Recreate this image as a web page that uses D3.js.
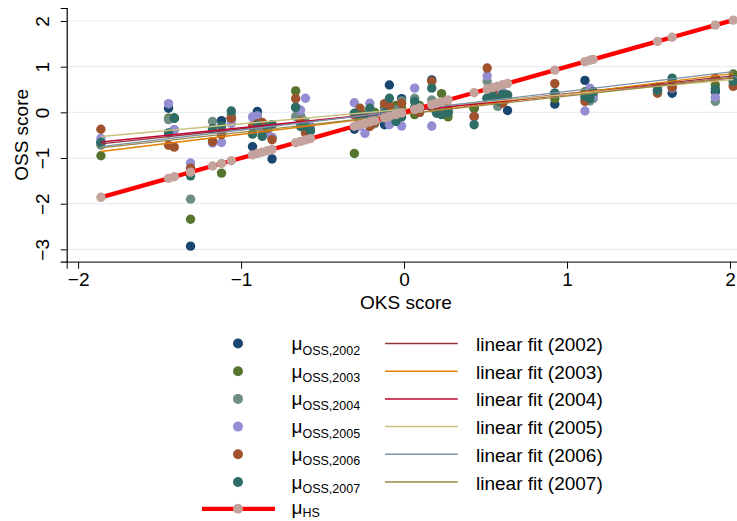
<!DOCTYPE html>
<html>
<head>
<meta charset="utf-8">
<script src="https://cdn.jsdelivr.net/npm/d3@7/dist/d3.min.js"></script>
<style>
html,body{margin:0;padding:0;background:#fff;}
svg{display:block;font-family:"Liberation Sans",Arial,Helvetica,sans-serif;}
</style>
</head>
<body>
<svg id="chart" width="737" height="521"></svg>
<script>
// ---- data ----
const years = ["2002","2003","2004","2005","2006","2007"];
const oks = [-1.86,-1.445,-1.41,-1.31,-1.175,-1.12,-1.06,-0.93,-0.90,-0.87,-0.84,-0.81,
  -0.665,-0.635,-0.605,-0.575,-0.305,-0.27,-0.24,-0.21,-0.18,-0.12,-0.09,-0.05,-0.015,
  0.065,0.095,0.17,0.20,0.23,0.27,0.43,0.51,0.545,0.575,0.605,0.635,0.925,1.11,1.14,1.16,
  1.555,1.645,1.91,2.02];
const hs = [-1.86,-1.445,-1.41,-1.31,-1.175,-1.12,-1.06,-0.93,-0.90,-0.87,-0.84,-0.81,
  -0.665,-0.635,-0.605,-0.575,-0.305,-0.27,-0.24,-0.21,-0.18,-0.12,-0.09,-0.05,-0.015,
  0.065,0.095,0.17,0.20,0.23,0.27,0.43,0.51,0.545,0.575,0.605,0.635,0.925,1.11,1.14,1.16,
  1.555,1.645,1.91,2.02];
const oss2002 = [-0.66,0.09,-0.13,-2.93,-0.36,-0.18,-0.13,-0.75,0.02,-0.3,-0.35,-1.02,
  0.11,-0.09,-0.3,-0.4,-0.37,-0.2,-0.1,-0.2,-0.05,-0.27,0.60,-0.05,0.3,
  0.1,0.0,0.71,0.0,0.1,0.0,0.09,0.31,0.4,0.3,0.35,0.04,0.18,0.70,0.5,0.45,
  0.48,0.42,0.45,0.75];
const oss2003 = [-0.95,-0.13,-0.12,-2.34,-0.64,-1.33,-0.13,-0.47,-0.25,-0.52,-0.4,-0.55,
  0.47,-0.09,-0.3,-0.4,-0.9,-0.1,-0.05,0.05,0.0,0.1,0.0,0.15,0.1,
  -0.05,0.15,0.1,0.2,0.41,-0.1,0.09,0.31,0.45,0.3,0.4,0.38,0.3,0.45,0.35,0.4,
  0.55,0.7,0.6,0.84];
const oss2004 = [-0.72,-0.16,-0.38,-1.90,-0.2,-0.45,-0.05,-0.47,-0.08,-0.3,-0.3,-0.27,
  -0.09,-0.09,-0.2,-0.4,-0.05,-0.15,-0.2,0.0,-0.25,0.05,-0.1,0.05,0.25,
  0.31,0.05,0.27,0.15,0.2,0.0,-0.09,0.68,0.35,0.13,0.3,0.3,0.42,0.3,0.25,0.3,
  0.48,0.6,0.24,0.62];
const oss2005 = [-0.57,0.19,-0.38,-1.11,-0.67,-0.66,-0.24,-0.1,-0.08,-0.45,-0.45,-0.55,
  0.11,0.05,0.31,-0.3,0.21,-0.3,-0.46,0.2,-0.1,0.0,-0.27,-0.1,-0.3,
  0.53,0.1,-0.3,0.1,0.15,0.05,-0.09,0.8,0.3,0.35,0.45,0.35,0.42,0.03,0.53,0.35,
  0.48,0.53,0.33,0.7];
const oss2006 = [-0.37,-0.72,-0.76,-1.22,-0.64,-0.49,-0.13,-0.3,-0.25,-0.22,-0.35,-0.6,
  0.30,-0.2,-0.45,-0.4,-0.05,0.09,-0.15,-0.31,-0.22,0.19,0.14,-0.15,0.2,
  0.05,0.0,0.68,0.05,0.2,0.1,-0.09,0.97,0.46,0.3,0.2,0.3,0.63,0.24,0.4,0.45,
  0.42,0.55,0.75,0.57];
const oss2007 = [-0.66,-0.45,-0.13,-1.39,-0.36,-0.3,0.03,-0.47,-0.28,-0.52,-0.33,-0.27,
  0.11,-0.31,-0.3,-0.4,-0.02,-0.08,-0.1,0.09,-0.15,-0.01,0.31,-0.2,-0.1,
  0.24,0.1,0.53,-0.02,-0.05,0.0,-0.27,0.31,0.35,0.25,0.4,0.38,0.42,0.35,0.3,0.45,
  0.48,0.75,0.51,0.68];
const fitIntercept = [0.024,-0.04,0.025,0.07,0.037,-0.04];
const fitSlope = [0.384,0.44,0.363,0.322,0.423,0.397];
const xTicks = [-2,-1,0,1,2];
const yTicks = [-3,-2,-1,0,1,2];

const ossSeries = [oss2002,oss2003,oss2004,oss2005,oss2006,oss2007];
const markerColors = ["#1a476f","#55752f","#6e8e84","#938dd2","#a0522d","#2d6d66"];
const fitColors = ["#90353b","#e37e00","#c10534","#cac27e","#7b92a8","#9c8847"];
const hsMarker = "#c4a39d";

// ---- layout ----
const svg = d3.select("#chart");
const L = 66.7, R = 745, T = 8, B = 261.7;
const x = d3.scaleLinear().domain([-2.07, 2.092]).range([L, R]);
const y = d3.scaleLinear().domain([-3.27, 2.285]).range([B, T]);
const r = 4.7;
const fmt = d3.format("d");

// gridlines
svg.append("g").selectAll("line").data(yTicks).join("line")
  .attr("x1", L).attr("x2", R)
  .attr("y1", d => y(d)).attr("y2", d => y(d))
  .attr("stroke", "#e6eef1").attr("stroke-width", 1.2);

// axes
const xAxis = svg.append("g").attr("transform", `translate(0,${B})`)
  .call(d3.axisBottom(x).tickValues(xTicks).tickFormat(fmt).tickSize(7).tickPadding(4));
xAxis.select(".domain").attr("stroke", "#333").attr("stroke-width", 1.2);
xAxis.selectAll(".tick line").attr("stroke", "#000");
xAxis.selectAll("text").attr("font-size", 19).attr("fill", "#000")
  .attr("font-family", "Liberation Sans, Arial, sans-serif");

const yAxis = svg.append("g").attr("transform", `translate(${L},0)`)
  .call(d3.axisLeft(y).tickValues(yTicks).tickFormat(fmt).tickSize(6));
yAxis.select(".domain").attr("stroke", "#000").attr("stroke-width", 1.2);
yAxis.selectAll(".tick line").attr("stroke", "#000");
yAxis.selectAll("text")
  .attr("font-size", 19).attr("fill", "#000")
  .attr("font-family", "Liberation Sans, Arial, sans-serif")
  .attr("x", null).attr("dy", null)
  .attr("text-anchor", "middle")
  .attr("transform", "translate(-18,0) rotate(-90)");

// axis titles
svg.append("text").attr("x", 406).attr("y", 309).attr("text-anchor", "middle")
  .attr("font-size", 19).text("OKS score");
svg.append("text").attr("transform", `translate(28,${(T + B) / 2}) rotate(-90)`)
  .attr("text-anchor", "middle").attr("font-size", 19).text("OSS score");

// scatter
const plot = svg.append("g");
ossSeries.forEach((s, i) => {
  plot.append("g").selectAll("circle").data(s).join("circle")
    .attr("cx", (d, j) => x(oks[j])).attr("cy", d => y(d)).attr("r", r)
    .attr("fill", markerColors[i]);
});

// linear fits
const xmin = d3.min(oks), xmax = d3.max(oks);
fitIntercept.forEach((a, i) => {
  const b = fitSlope[i];
  plot.append("line")
    .attr("x1", x(xmin)).attr("y1", y(a + b * xmin))
    .attr("x2", x(xmax)).attr("y2", y(a + b * xmax))
    .attr("stroke", fitColors[i]).attr("stroke-width", 1.4);
});

// HS line
const hsPts = oks.map((v, j) => [v, hs[j]]);
plot.append("path").datum(hsPts)
  .attr("d", d3.line().x(d => x(d[0])).y(d => y(d[1])))
  .attr("fill", "none").attr("stroke", "#ff0000").attr("stroke-width", 4.3);
plot.append("g").selectAll("circle").data(hsPts).join("circle")
  .attr("cx", d => x(d[0])).attr("cy", d => y(d[1])).attr("r", r)
  .attr("fill", hsMarker);

// legend
const rowY = [343.5, 371.2, 398.9, 426.6, 454.3, 482.0];
const leg = svg.append("g");
years.forEach((yr, i) => {
  const cy = rowY[i];
  leg.append("circle").attr("cx", 238).attr("cy", cy).attr("r", 5).attr("fill", markerColors[i]);
  const t = leg.append("text").attr("x", 291.5).attr("y", cy + 6.5);
  t.append("tspan").attr("font-size", 19).text("μ");
  t.append("tspan").attr("font-size", 12.5).attr("dy", 4.5).text("OSS," + yr);
  leg.append("line").attr("x1", 385).attr("x2", 457.7).attr("y1", cy).attr("y2", cy)
    .attr("stroke", fitColors[i]).attr("stroke-width", 1.5);
  leg.append("text").attr("x", 476).attr("y", cy + 7.5).attr("font-size", 19)
    .text("linear fit (" + yr + ")");
});
const hsY = 508.8;
leg.append("line").attr("x1", 202).attr("x2", 275).attr("y1", hsY).attr("y2", hsY)
  .attr("stroke", "#ff0000").attr("stroke-width", 4.3);
leg.append("circle").attr("cx", 238).attr("cy", hsY).attr("r", 5).attr("fill", hsMarker);
const th = leg.append("text").attr("x", 291.5).attr("y", hsY + 5);
th.append("tspan").attr("font-size", 19).text("μ");
th.append("tspan").attr("font-size", 12.5).attr("dy", 3.5).text("HS");
</script>
</body>
</html>
